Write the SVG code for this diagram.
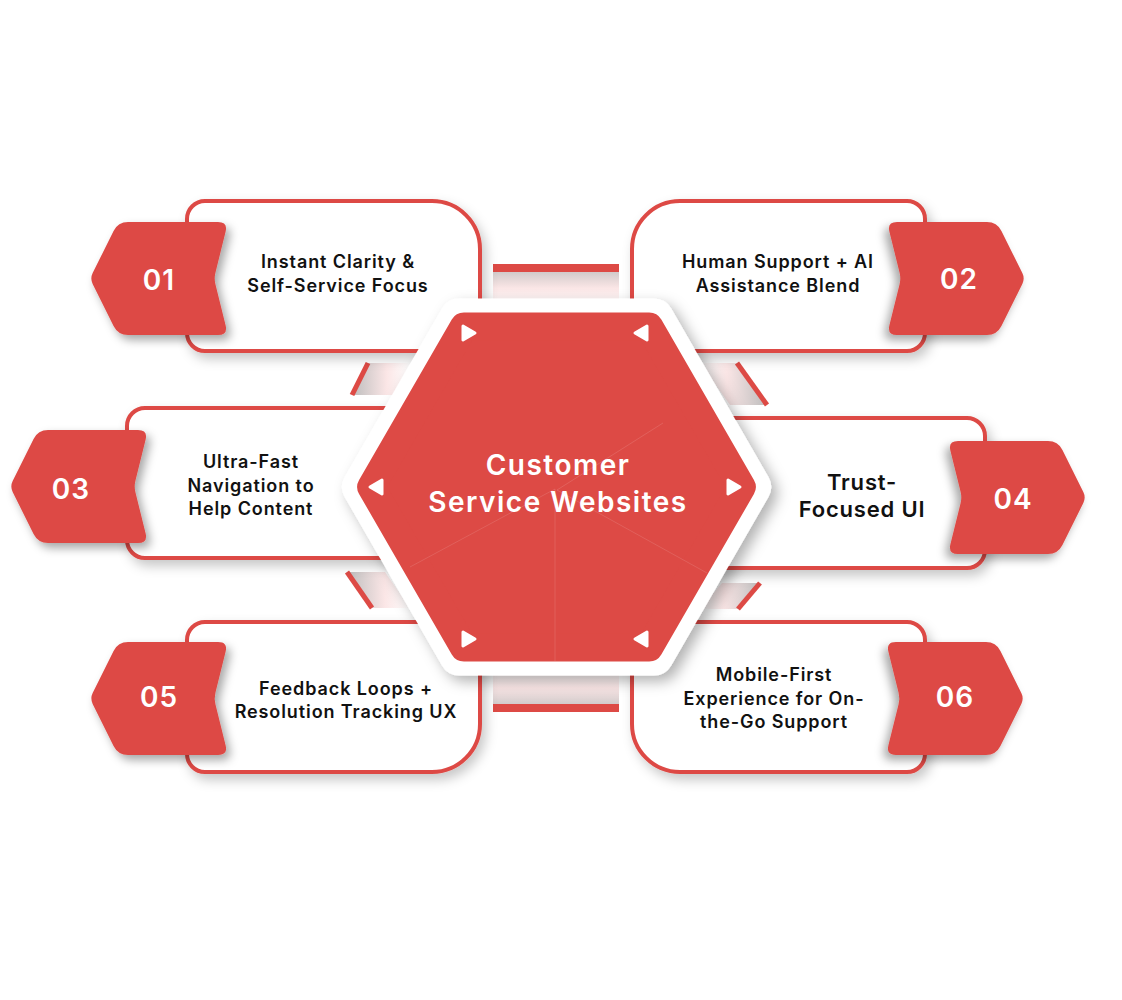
<svg xmlns="http://www.w3.org/2000/svg" width="1122" height="1000" viewBox="0 0 1122 1000">
<style>
.card{fill:#fff;stroke:#DD4A45;stroke-width:4}
.badge{fill:#DD4A45}
.num{font-family:Inter,"Liberation Sans",sans-serif;font-weight:600;font-size:28px;fill:#fff;text-anchor:middle;letter-spacing:1px}
.lbl{font-family:Inter,"Liberation Sans",sans-serif;font-weight:600;font-size:18px;fill:#111;text-anchor:middle;letter-spacing:0.9px}
.lbl-lg{font-family:Inter,"Liberation Sans",sans-serif;font-weight:600;font-size:22px;fill:#111;text-anchor:middle;letter-spacing:0.8px}
.title{font-family:Inter,"Liberation Sans",sans-serif;font-weight:600;font-size:28px;fill:#fff;text-anchor:middle;letter-spacing:1.5px}
.tri{fill:#fff;stroke:#fff;stroke-width:3;stroke-linejoin:round}
.red{fill:#DD4A45}
.seam{stroke:#fff;stroke-opacity:0.12;stroke-width:1;fill:none}
</style>
<defs>
<filter id="sh" x="-20%" y="-20%" width="150%" height="160%">
<feDropShadow dx="4" dy="6" stdDeviation="6" flood-color="#000" flood-opacity="0.22"/>
</filter>
<filter id="shb" x="-20%" y="-20%" width="150%" height="160%">
<feDropShadow dx="4" dy="5" stdDeviation="5" flood-color="#000" flood-opacity="0.35"/>
</filter>
<filter id="shh" x="-20%" y="-20%" width="150%" height="150%">
<feDropShadow dx="6" dy="6" stdDeviation="7" flood-color="#000" flood-opacity="0.3"/>
</filter>
<linearGradient id="gv" x1="0" y1="0" x2="0" y2="1">
<stop offset="0" stop-color="#bdbdbd"/>
<stop offset="0.55" stop-color="#fbe6e6"/>
<stop offset="1" stop-color="#ffffff"/>
</linearGradient>
<linearGradient id="gvu" x1="0" y1="1" x2="0" y2="0">
<stop offset="0" stop-color="#bdbdbd"/>
<stop offset="0.55" stop-color="#fbe6e6"/>
<stop offset="1" stop-color="#ffffff"/>
</linearGradient>
<linearGradient id="ghr" x1="0" y1="0" x2="1" y2="0">
<stop offset="0" stop-color="#bdbdbd"/>
<stop offset="0.6" stop-color="#fbe6e6"/>
<stop offset="1" stop-color="#ffffff"/>
</linearGradient>
<linearGradient id="ghl" x1="1" y1="0" x2="0" y2="0">
<stop offset="0" stop-color="#bdbdbd"/>
<stop offset="0.6" stop-color="#fbe6e6"/>
<stop offset="1" stop-color="#ffffff"/>
</linearGradient>
<path id="bdg" d="M 2.66,51.12 L 23.56,8.96 Q 28,0 38,0 L 128,0 Q 138,0 135.6,9.71 L 125.44,50.67 Q 124,56.5 125.44,62.33 L 135.6,103.29 Q 138,113 128,113 L 38,113 Q 28,113 23.56,104.04 L 2.66,61.88 Q 0,56.5 2.66,51.12 Z"/>
<path id="trR" d="M -5,-7 L 7,0 L -5,7 Z"/>
</defs>
<rect width="1122" height="1000" fill="#fff"/>

<g id="connectors">
<rect x="493" y="264" width="126" height="44" fill="url(#gv)"/>
<rect x="493" y="264" width="126" height="8" class="red"/>
<rect x="493" y="668" width="126" height="44" fill="url(#gvu)"/>
<rect x="493" y="704" width="126" height="8" class="red"/>
<polygon points="368,363 410,363 394,395 352,395" fill="url(#ghr)"/>
<line x1="368" y1="363" x2="352" y2="395" stroke="#DD4A45" stroke-width="5"/>
<polygon points="737,363 700,363 730,405 767,405" fill="url(#ghl)"/>
<line x1="737" y1="363" x2="767" y2="405" stroke="#DD4A45" stroke-width="5"/>
<polygon points="347,572 385,572 410,608 372,608" fill="url(#ghr)"/>
<line x1="347" y1="572" x2="372" y2="608" stroke="#DD4A45" stroke-width="5"/>
<polygon points="760,583 722,583 700,609 738,609" fill="url(#ghl)"/>
<line x1="760" y1="583" x2="738" y2="609" stroke="#DD4A45" stroke-width="5"/>
</g>

<g id="node-01">
<path class="card" filter="url(#sh)" d="M 205,201 H 432 A 48 48 0 0 1 480,249 V 333 A 18 18 0 0 1 462,351 H 205 A 18 18 0 0 1 187,333 V 219 A 18 18 0 0 1 205,201 Z"/>
<use href="#bdg" class="badge" filter="url(#shb)" transform="translate(90,222)"/>
<text class="num" x="159" y="290">01</text>
<text class="lbl" x="338" y="268">Instant Clarity &amp;</text>
<text class="lbl" x="338" y="292">Self-Service Focus</text>
</g>

<g id="node-02">
<path class="card" filter="url(#sh)" d="M 680,201 H 907 A 18 18 0 0 1 925,219 V 333 A 18 18 0 0 1 907,351 H 650 A 18 18 0 0 1 632,333 V 249 A 48 48 0 0 1 680,201 Z"/>
<use href="#bdg" class="badge" filter="url(#shb)" transform="translate(1025,222) scale(-1,1)"/>
<text class="num" x="959" y="289">02</text>
<text class="lbl" x="778" y="268">Human Support + AI</text>
<text class="lbl" x="778" y="292">Assistance Blend</text>
</g>

<g id="node-03">
<rect class="card" filter="url(#sh)" x="127" y="408" width="293" height="150" rx="18"/>
<use href="#bdg" class="badge" filter="url(#shb)" transform="translate(10,430)"/>
<text class="num" x="71" y="499">03</text>
<text class="lbl" x="251" y="468">Ultra-Fast</text>
<text class="lbl" x="251" y="492">Navigation to</text>
<text class="lbl" x="251" y="515">Help Content</text>
</g>

<g id="node-04">
<rect class="card" filter="url(#sh)" x="692" y="418" width="293" height="150" rx="18"/>
<use href="#bdg" class="badge" filter="url(#shb)" transform="translate(1086,441) scale(-1,1)"/>
<text class="num" x="1013" y="509">04</text>
<text class="lbl-lg" x="862" y="490">Trust-</text>
<text class="lbl-lg" x="862" y="517">Focused UI</text>
</g>

<g id="node-05">
<path class="card" filter="url(#sh)" d="M 205,622 H 462 A 18 18 0 0 1 480,640 V 724 A 48 48 0 0 1 432,772 H 205 A 18 18 0 0 1 187,754 V 640 A 18 18 0 0 1 205,622 Z"/>
<use href="#bdg" class="badge" filter="url(#shb)" transform="translate(90,642)"/>
<text class="num" x="159" y="707">05</text>
<text class="lbl" x="346" y="695">Feedback Loops +</text>
<text class="lbl" x="346" y="718">Resolution Tracking UX</text>
</g>

<g id="node-06">
<path class="card" filter="url(#sh)" d="M 650,622 H 907 A 18 18 0 0 1 925,640 V 754 A 18 18 0 0 1 907,772 H 680 A 48 48 0 0 1 632,724 V 640 A 18 18 0 0 1 650,622 Z"/>
<use href="#bdg" class="badge" filter="url(#shb)" transform="translate(1024,642) scale(-1,1)"/>
<text class="num" x="955" y="707">06</text>
<text class="lbl" x="774" y="681">Mobile-First</text>
<text class="lbl" x="774" y="705">Experience for On-</text>
<text class="lbl" x="774" y="728">the-Go Support</text>
</g>

<g id="center">
<polygon filter="url(#shh)" fill="#fff" stroke="#fff" stroke-width="40" stroke-linejoin="round" points="362.0,487 459.3,318.5 653.9,318.5 751.1,487 653.9,655.5 459.3,655.5"/>
<polygon fill="#DD4A45" stroke="#DD4A45" stroke-width="28" stroke-linejoin="round" points="371.2,487 463.9,326.5 649.2,326.5 741.8,487 649.2,647.5 463.9,647.5"/>
<line class="seam" x1="555" y1="489" x2="555" y2="661"/>
<line class="seam" x1="555" y1="489" x2="410" y2="567"/>
<line class="seam" x1="557" y1="490" x2="707" y2="573"/>
<line class="seam" x1="557" y1="490" x2="663" y2="423"/>
<use href="#trR" class="tri" transform="translate(468,333)"/>
<use href="#trR" class="tri" transform="translate(642,333) scale(-1,1)"/>
<use href="#trR" class="tri" transform="translate(377,487) scale(-1,1)"/>
<use href="#trR" class="tri" transform="translate(733,487)"/>
<use href="#trR" class="tri" transform="translate(468,639)"/>
<use href="#trR" class="tri" transform="translate(642,639) scale(-1,1)"/>
<text class="title" x="558" y="475">Customer</text>
<text class="title" x="558" y="512">Service Websites</text>
</g>
</svg>
